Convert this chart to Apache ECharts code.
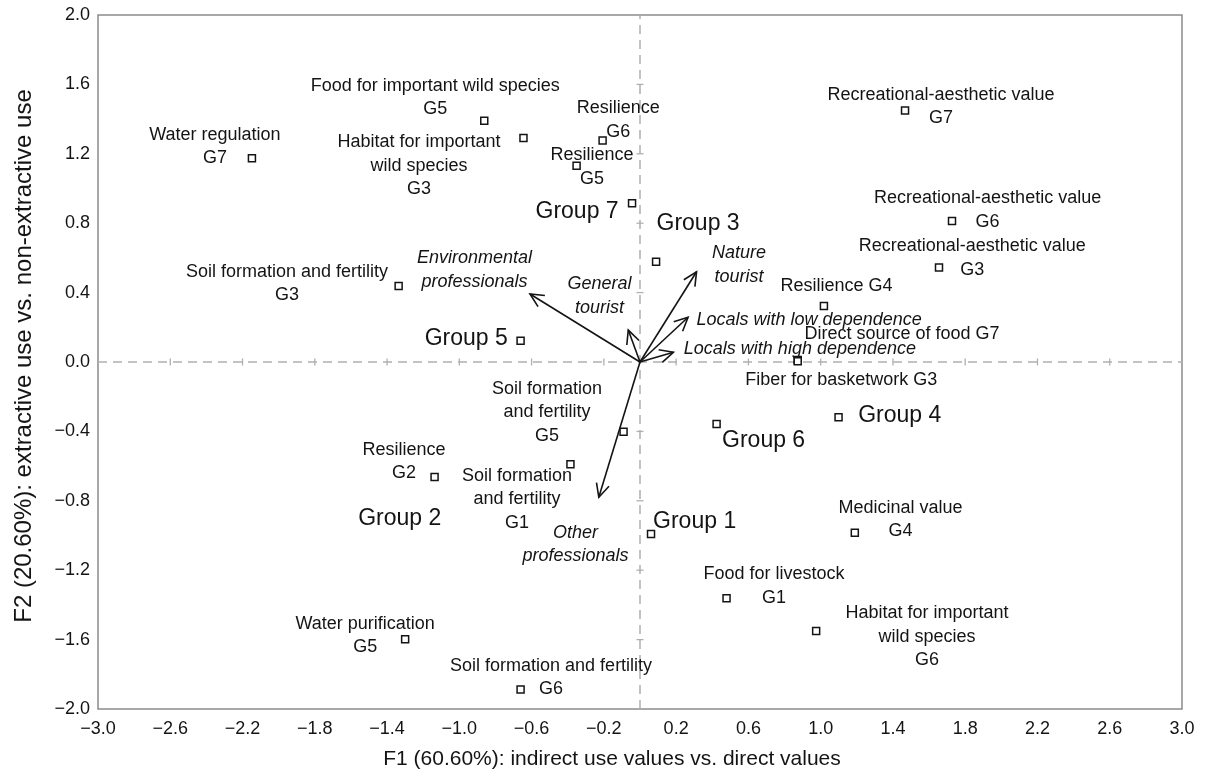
<!DOCTYPE html>
<html><head><meta charset="utf-8">
<script src="https://cdn.jsdelivr.net/npm/echarts@6/dist/echarts.min.js"></script>
<style>html,body{margin:0;padding:0;background:#fff}#c{width:1205px;height:780px}</style>
</head><body><div id="c"></div>
<script>
// ---- tick labels ----
const xTickLabels = [-3.0,-2.6,-2.2,-1.8,-1.4,-1.0,-0.6,-0.2,0.2,0.6,1.0,1.4,1.8,2.2,2.6,3.0];
const yTickLabels = [-2.0,-1.6,-1.2,-0.8,-0.4,0.0,0.4,0.8,1.2,1.6,2.0];

// ---- ecosystem service points ----
const pointNames = [
  'Water regulation\nG7',
  'Food for important wild species\nG5',
  'Habitat for important\nwild species\nG3',
  'Resilience\nG6',
  'Resilience\nG5',
  'Soil formation and fertility\nG3',
  'Recreational-aesthetic value\nG7',
  'Recreational-aesthetic value\nG6',
  'Recreational-aesthetic value\nG3',
  'Resilience G4',
  'Direct source of food G7',
  'Fiber for basketwork G3',
  'Soil formation\nand fertility\nG5',
  'Soil formation\nand fertility\nG1',
  'Resilience\nG2',
  'Water purification\nG5',
  'Soil formation and fertility\nG6',
  'Medicinal value\nG4',
  'Food for livestock\nG1',
  'Habitat for important\nwild species\nG6'
];
const pointX = [-2.148,-0.862,-0.645,-0.207,-0.351,-1.336,1.467,1.727,1.655,1.018,0.873,0.873,-0.091,-0.385,-1.137,-1.300,-0.661,1.189,0.479,0.975];
const pointY = [1.174,1.391,1.291,1.276,1.131,0.438,1.449,0.813,0.544,0.323,0.012,0.005,-0.402,-0.590,-0.663,-1.598,-1.887,-0.984,-1.362,-1.550];

// ---- stakeholder group points ----
const groupNames = ['Group 7','Group 3','Group 5','Group 6','Group 4','Group 1','Group 2'];
const groupX = [-0.044,0.089,-0.661,0.424,1.099,0.061,-1.137];
const groupY = [0.915,0.578,0.123,-0.357,-0.319,-0.991,-0.663];

// ---- stakeholder vectors ----
const vectorNames = ['Environmental\nprofessionals','General\ntourist','Nature\ntourist','Locals with low dependence','Locals with high dependence','Other\nprofessionals'];
const vectorX = [-0.609,-0.065,0.313,0.266,0.185,-0.228];
const vectorY = [0.392,0.184,0.520,0.258,0.056,-0.780];

// ---- label layout (pixel offsets, styling only) ----
const pointLabelOffsets = [[-37,-12],[-49,-23],[-104.5,28],[15.7,-20.7],[15.4,1.3],[-111.6,-2.7],[36,-4],[35.6,-11],[33.3,-9.4],[12.5,-20.3],[104.3,-25.7],[43.6,19.3],[-76.6,-19.7],[-53.5,35],[-30.5,-15.7],[-40,-3.5],[30.5,-11.8],[45.7,-13.2],[47.4,-12.3],[110.8,6]];
const groupLabelOffsets = [[-55,8],[42,-37.7],[-54.3,-2.4],[47,16.7],[61.2,-1.3],[43.6,-12.3],[-34.8,42]];
const groupShowSymbol = [true,true,true,true,true,true,false];
const vectorLabelOffsets = [[-55.5,-24],[-28.7,-34.2],[42.5,-6.7],[8.5,2.7],[10.4,-3.3],[-23.3,47]];
const vectorLabelAlign = ['center','center','center','left','left','center'];

const FONT = 'Liberation Sans, Arial, Helvetica, sans-serif';
const INK = '#141414';
const fmt = v => (v < -1e-9 ? '\u2212' : '') + Math.abs(v).toFixed(1);

// zero-line tick marks from the tick label arrays
const xInner = xTickLabels.filter(v => Math.abs(v) > 1e-9 && Math.abs(Math.abs(v)-3) > 1e-9);
const yInner = yTickLabels.filter(v => Math.abs(v) > 1e-9 && Math.abs(Math.abs(v)-2) > 1e-9);
const zeroTickData = xInner.map(v=>[v,0,0]).concat(yInner.map(v=>[0,v,1]));

function markerItem(api, text, off, fontSize, showSquare) {
  const p = api.coord([api.value(0), api.value(1)]);
  const children = [];
  if (showSquare) {
    children.push({type:'rect', shape:{x:p[0]-3.5, y:p[1]-3.5, width:7, height:7},
      style:{fill:'#fff', stroke:INK, lineWidth:1.5}, z2:2});
  }
  children.push({type:'text', x:p[0]+off[0], y:p[1]+off[1], z2:1, style:{
    text:text, fontSize:fontSize, fontFamily:FONT, fill:INK,
    align:'center', verticalAlign:'middle', lineHeight:23.5}});
  return {type:'group', children};
}

const chart = echarts.init(document.getElementById('c'), null, {renderer:'canvas'});
chart.setOption({
  backgroundColor:'#fff',
  animation:false,
  textStyle:{fontFamily:FONT},
  grid:{left:98, right:23, top:15, bottom:71, show:true, borderColor:'#8c8c8c', borderWidth:1.5, backgroundColor:'transparent'},
  xAxis:{
    type:'value', min:-3, max:3,
    name:'F1 (60.60%): indirect use values vs. direct values',
    nameLocation:'middle', nameGap:40,
    nameTextStyle:{fontSize:21, color:INK, fontFamily:FONT, padding:[0,56,0,0]},
    axisLine:{show:false}, axisTick:{show:false}, splitLine:{show:false},
    axisLabel:{customValues:xTickLabels, formatter:fmt, fontSize:18, color:INK, margin:11, fontFamily:FONT}
  },
  yAxis:{
    type:'value', min:-2, max:2, interval:0.4,
    name:'F2 (20.60%): extractive use vs. non-extractive use',
    nameLocation:'middle', nameGap:62,
    nameTextStyle:{fontSize:24, color:INK, fontFamily:FONT, padding:[0,0,0,12]},
    axisLine:{show:false}, axisTick:{show:false}, splitLine:{show:false},
    axisLabel:{formatter:fmt, fontSize:18, color:INK, margin:8, fontFamily:FONT}
  },
  series:[
    {
      type:'scatter', name:'zero', data:[], silent:true,
      markLine:{silent:true, symbol:['none','none'], label:{show:false},
        lineStyle:{type:[9,6], color:'#b0b0b0', width:1.5},
        emphasis:{disabled:true},
        data:[{xAxis:0},{yAxis:0}]}
    },
    {
      type:'custom', name:'zeroTicks', silent:true, data:zeroTickData, z:1,
      renderItem:(params, api)=>{
        const p = api.coord([api.value(0), api.value(1)]);
        const vertical = api.value(2) === 0;
        const s = 3.5;
        return {type:'line', shape: vertical ? {x1:p[0],y1:p[1]-s,x2:p[0],y2:p[1]+s} : {x1:p[0]-s,y1:p[1],x2:p[0]+s,y2:p[1]},
          style:{stroke:'#b0b0b0', lineWidth:1.3}};
      }
    },
    {
      type:'custom', name:'vectors', silent:true, z:5,
      data: vectorNames.map((n,i)=>[vectorX[i], vectorY[i], i]),
      renderItem:(params, api)=>{
        const i = api.value(2);
        const o = api.coord([0,0]);
        const t = api.coord([api.value(0), api.value(1)]);
        const ang = Math.atan2(t[1]-o[1], t[0]-o[0]);
        const L = 15, a = 0.45;
        const h1 = [t[0]-L*Math.cos(ang-a), t[1]-L*Math.sin(ang-a)];
        const h2 = [t[0]-L*Math.cos(ang+a), t[1]-L*Math.sin(ang+a)];
        const off = vectorLabelOffsets[i];
        return {type:'group', children:[
          {type:'line', shape:{x1:o[0],y1:o[1],x2:t[0],y2:t[1]}, style:{stroke:INK, lineWidth:1.6}},
          {type:'polyline', shape:{points:[h1,t,h2]}, style:{stroke:INK, lineWidth:1.6, fill:null}},
          {type:'text', x:t[0]+off[0], y:t[1]+off[1], style:{
            text:vectorNames[i], fontSize:18, fontStyle:'italic', fontFamily:FONT, fill:INK,
            align:vectorLabelAlign[i], verticalAlign:'middle', lineHeight:23.5}}
        ]};
      }
    },
    {
      type:'custom', name:'services', silent:true, z:6,
      data: pointNames.map((n,i)=>[pointX[i], pointY[i], i]),
      renderItem:(params, api)=>{
        const i = api.value(2);
        return markerItem(api, pointNames[i], pointLabelOffsets[i], 18, true);
      }
    },
    {
      type:'custom', name:'groups', silent:true, z:6,
      data: groupNames.map((n,i)=>[groupX[i], groupY[i], i]),
      renderItem:(params, api)=>{
        const i = api.value(2);
        return markerItem(api, groupNames[i], groupLabelOffsets[i], 23, groupShowSymbol[i]);
      }
    }
  ]
});
</script></body></html>
